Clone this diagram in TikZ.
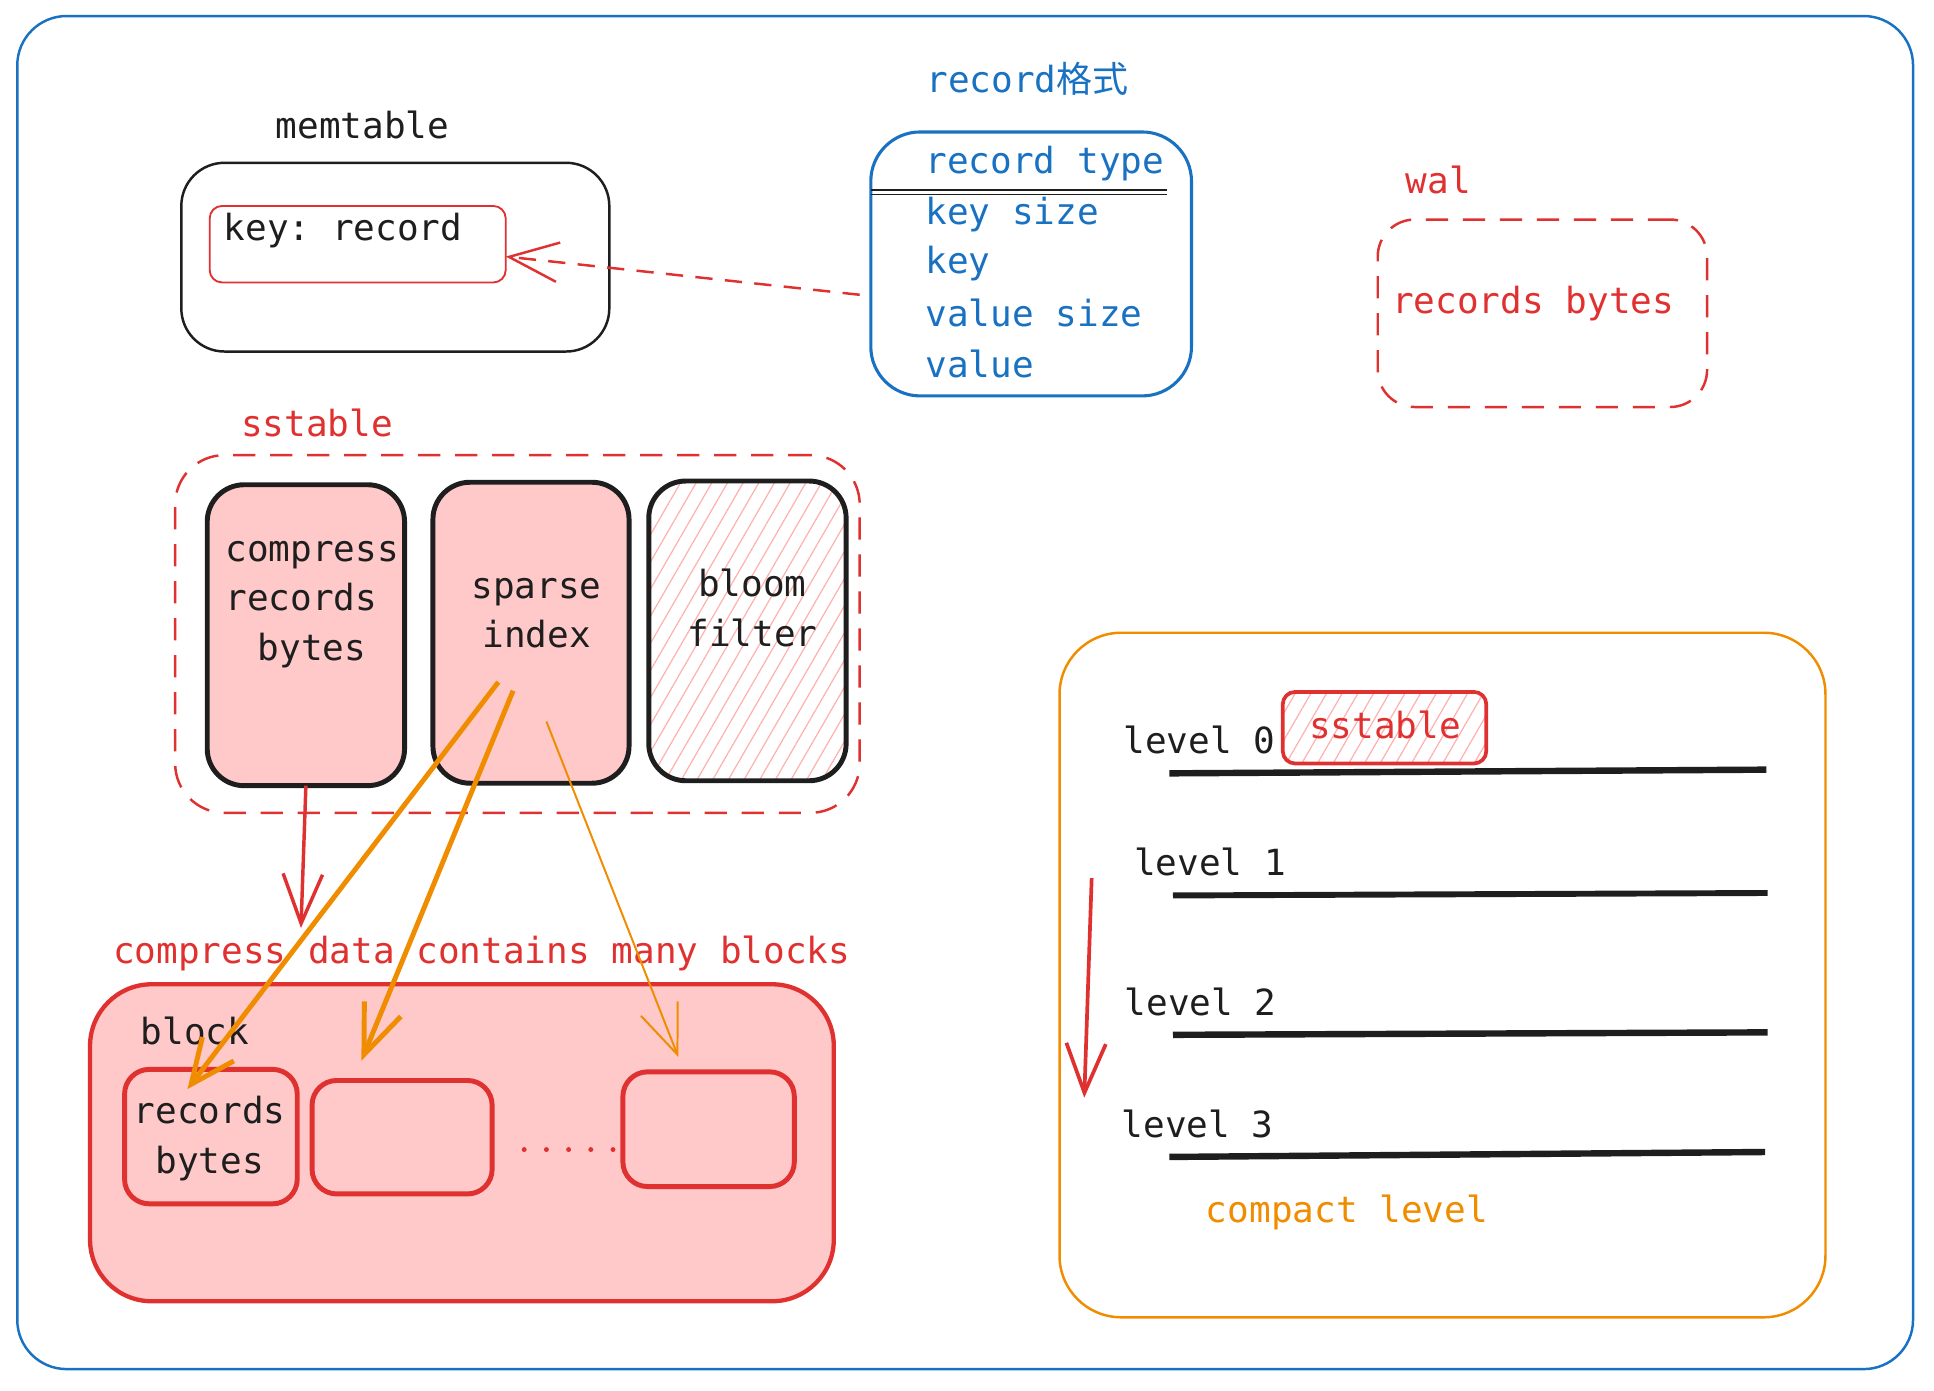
\documentclass[tikz,border=0pt]{standalone}
\usepackage{fontspec}
\setmonofont{DejaVu Sans Mono}
\newfontfamily\cjk{Noto Sans CJK SC}
\usetikzlibrary{arrows.meta,patterns.meta,calc}
\definecolor{cblue}{HTML}{1971C2}
\definecolor{cred}{HTML}{E03131}
\definecolor{corange}{HTML}{F08C00}
\definecolor{cpink}{HTML}{FFC9C9}
\definecolor{chatch}{HTML}{FFB0B0}
\definecolor{cblack}{HTML}{1E1E1E}
\begin{document}
\begin{tikzpicture}[x=0.5pt,y=-0.5pt,
  txt/.style={font=\ttfamily\fontsize{14.6}{20}\selectfont, inner sep=0pt, text=cblack},
  box/.style={inner sep=0pt, outer sep=0pt},
  hatch/.style={pattern={Lines[angle=60,distance=5.5pt,line width=0.5pt]}, pattern color=chatch},
  barb/.style={-{Straight Barb[length=#1,width=16pt]}},
  barb/.default=18pt]
\useasboundingbox (0,0) rectangle (1568,1127);

% outer frame
\node[box, draw=cblue, line width=1pt, rounded corners=20pt, minimum width=768.5pt, minimum height=548.5pt] (frame) at (782.5,561.5) {};

% memtable
\node[txt] (memt) at (294,101) {memtable};
\node[box, draw=cblack, line width=1pt, rounded corners=17.5pt, minimum width=173.5pt, minimum height=76.5pt] (mem) at (320.5,208.5) {};
\node[box, draw=cred, line width=0.75pt, rounded corners=5pt, minimum width=120pt, minimum height=31pt] (kr) at (290,198) {};
\node[txt, anchor=west] (krt) at (181,187) {key: record};

% record format
\node[txt, text=cblue] (rect) at (833,64) {record{\cjk 格式}};
\node[box, draw=cblue, line width=1.25pt, rounded corners=20pt, minimum width=130pt, minimum height=107pt] (rec) at (836,214) {};
\node[txt, text=cblue, anchor=west] (f1) at (750,133) {record type};
\node[txt, text=cblue, anchor=west] (f2) at (750,174) {key size};
\node[txt, text=cblue, anchor=west] (f3) at (750,214) {key};
\node[txt, text=cblue, anchor=west] (f4) at (750,254) {value size};
\node[txt, text=cblue, anchor=west] (f5) at (750,295) {value};
\draw[cblack, line width=0.6pt] (706,154) -- (946,154);
\draw[cblack, line width=0.6pt] (706,157.5) -- (946,157.5);

\draw[cred, line width=1pt, dash pattern=on 7pt off 5pt, barb=20pt] ([shift={(-9,25)}]rec.west) -- ([shift={(0,10)}]kr.east);

% wal
\node[txt, text=cred] (walt) at (1166,146) {wal};
\node[box, draw=cred, line width=1pt, dash pattern=on 9pt off 6pt, rounded corners=15pt, minimum width=133.5pt, minimum height=76pt] (wal) at (1250.5,254) {};
\node[txt, text=cred] (walr) at (1243,246) {records bytes};

% sstable
\node[txt, text=cred] (sstt) at (257,343) {sstable};
\node[box, draw=cred, line width=1pt, dash pattern=on 9pt off 6pt, rounded corners=20pt, minimum width=277.5pt, minimum height=145pt] (sst) at (419.5,514) {};
\node[box, draw=cblack, fill=cpink, line width=2pt, rounded corners=15pt, minimum width=80pt, minimum height=122pt] (comp) at (248,515) {};
\node[txt, align=center] (compt) at (253,490) {compress\\records\hphantom{x}\\bytes};
\node[box, draw=cblack, fill=cpink, line width=2pt, rounded corners=15pt, minimum width=79.5pt, minimum height=122pt] (sparse) at (430.5,513) {};
\node[txt, align=center] (sparset) at (435,497) {sparse\\index};
\node[box, draw=cblack, hatch, line width=2pt, rounded corners=15pt, minimum width=80pt, minimum height=121.5pt] (bloom) at (606,511.5) {};
\node[txt, align=center] (bloomt) at (610,493) {bloom\\filter};

% blocks
\node[txt, text=cred] (cdl) at (390.5,773) {compress data contains many blocks};
\draw[cred, line width=1.4pt, barb=20pt] (comp.south) -- ($(comp.south |- cdl.north)+(-4,-6)$);

\node[box, draw=cred, fill=cpink, line width=1.75pt, rounded corners=25pt, minimum width=301.5pt, minimum height=128.5pt] (big) at (374.5,926.5) {};
\node[txt] (blk) at (158,836) {block};
\node[box, draw=cred, fill=cpink, line width=2pt, rounded corners=10pt, minimum width=70pt, minimum height=54.5pt] (b1) at (171,921.5) {};
\node[txt, align=center] (b1t) at (170,923) {records\\bytes};
\node[box, draw=cred, fill=cpink, line width=2pt, rounded corners=10pt, minimum width=73pt, minimum height=46pt] (b2) at (326,922) {};
\node[box, draw=cred, fill=cpink, line width=2pt, rounded corners=10pt, minimum width=69.5pt, minimum height=46.5pt] (b3) at (574.5,915.5) {};
\draw[cred, line width=2pt, dash pattern=on 0pt off 9pt, line cap=round] ([shift={(26,10)}]b2.east) -- ([shift={(-3,16.5)}]b3.west);

% index arrows
\draw[corange, line width=2pt, barb] ([shift={(-26.5,40)}]sparse.center) -- ([shift={(-19,16)}]b1.north);
\draw[corange, line width=2pt, barb=20pt] ([shift={(-14.5,47)}]sparse.center) -- ([shift={(-33,-16)}]b2.north);
\draw[corange, line width=0.8pt, barb=20pt] ([shift={(12.5,72)}]sparse.center) -- ([shift={(-24.5,-12)}]b3.north);

% compaction levels
\node[box, draw=corange, line width=1pt, rounded corners=25pt, minimum width=310.5pt, minimum height=277.5pt] (cmp) at (1169.5,790.5) {};
\node[txt] (lv0) at (972.5,600) {level 0};
\node[box, draw=cred, hatch, line width=1.5pt, rounded corners=5pt, minimum width=82.5pt, minimum height=29pt] (sst0) at (1122.5,590) {};
\node[txt, text=cred] (sst0t) at (1123,588) {sstable};
\node[txt] (lv1) at (981,699) {level 1};
\node[txt] (lv2) at (973.5,812) {level 2};
\node[txt] (lv3) at (971,911) {level 3};
\draw[cblack, line width=2.6pt] (948,627) -- (1432,624);
\draw[cblack, line width=2.4pt] (951,726) -- (1433,724);
\draw[cblack, line width=2.6pt] (951,839) -- (1433,837);
\draw[cblack, line width=2.6pt] (948,938) -- (1431,934);
\draw[cred, line width=1.5pt, barb=20pt] ([shift={(-34,13)}]lv1.west) -- ([shift={(-30,-21)}]lv3.west);
\node[txt, text=corange] (cpl) at (1092,983) {compact level};
\end{tikzpicture}
\end{document}
